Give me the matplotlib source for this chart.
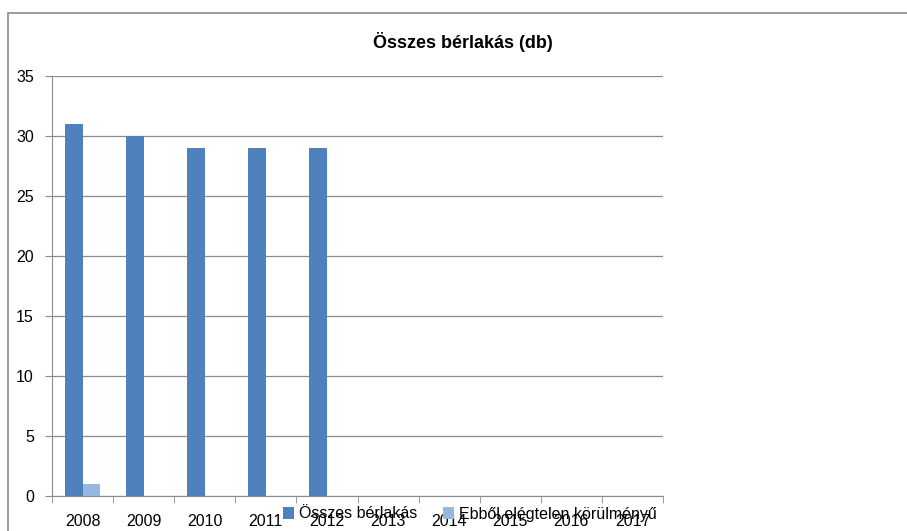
import matplotlib.pyplot as plt
import matplotlib.patches as patches
import numpy as np

# data
years = ['2008', '2009', '2010', '2011', '2012', '2013', '2014', '2015', '2016', '2017']
osszes = [31, 30, 29, 29, 29, 0, 0, 0, 0, 0]
elegtelen = [1, 0, 0, 0, 0, 0, 0, 0, 0, 0]

plt.rcParams['font.family'] = ['Liberation Sans', 'DejaVu Sans']

fig = plt.figure(figsize=(9.07, 5.31), dpi=100)
ax = fig.add_axes([52 / 907, 1 - 496 / 531, 611 / 907, 420 / 531])

x = np.arange(len(years))
w = 0.29
ax.bar(x - w / 2, osszes, w, color='#4F81BD', label='Összes bérlakás', zorder=3)
ax.bar(x + w / 2, elegtelen, w, color='#95B7E0', label='Ebből elégtelen körülményű', zorder=3)

ax.set_xlim(-0.5, len(years) - 0.5)
ax.set_ylim(0, 35)
ax.set_yticks(range(0, 36, 5))
ax.yaxis.grid(True, color='#8c8c8c', linewidth=0.9, zorder=0)

ax.set_xticks(x)
ax.set_xticklabels(years)
ax.set_xticks(np.arange(-0.5, len(years)), minor=True)
ax.tick_params(axis='x', which='major', length=0, pad=13, labelsize=11.5)
ax.tick_params(axis='x', which='minor', length=5, color='#8c8c8c', direction='out')
ax.tick_params(axis='y', length=5, color='#8c8c8c', labelsize=11.5, pad=8)

for s in ['top', 'right']:
    ax.spines[s].set_visible(False)
for s in ['left', 'bottom']:
    ax.spines[s].set_color('#8c8c8c')

fig.text(463 / 907, 1 - 42 / 531, 'Összes bérlakás (db)', ha='center', va='center',
         fontsize=13, fontweight='bold')

fig.legend(loc='center', bbox_to_anchor=(470 / 907, 1 - 514 / 531), ncol=2,
           frameon=False, fontsize=11.5, handlelength=0.7, handleheight=0.7,
           handletextpad=0.3, columnspacing=1.6)

border = patches.Rectangle((8 / 907, -0.1), 1.0, 1 - 13 / 531 + 0.1, fill=False,
                           edgecolor='#8c8c8c', linewidth=1.2, transform=fig.transFigure)
fig.patches.append(border)

fig.savefig('out.png', dpi=100)
